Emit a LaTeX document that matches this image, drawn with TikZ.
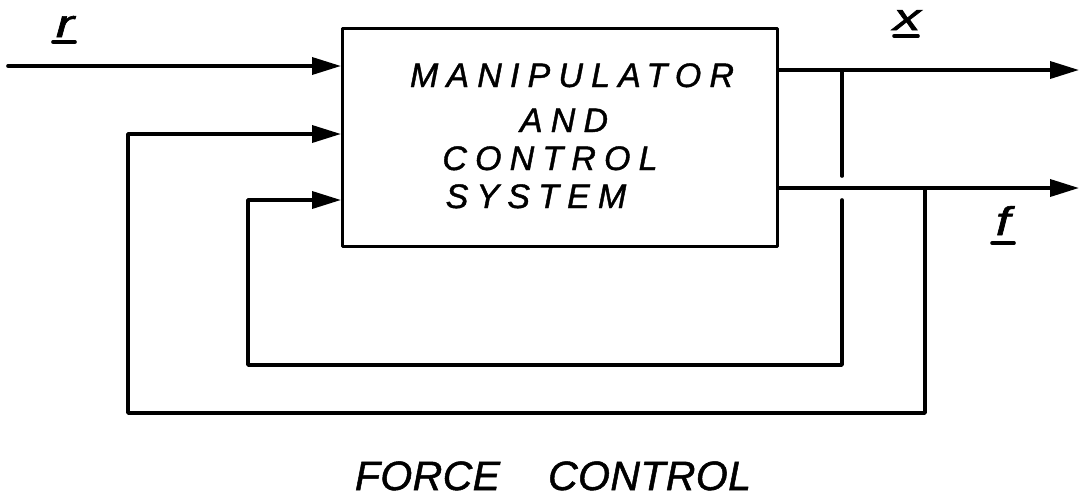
\documentclass[tikz,border=0pt]{standalone}
\usepackage{fontspec}
\usepackage{graphicx}
\setmainfont{Liberation Sans}
\newfontfamily\boxfont{Liberation Sans}[LetterSpace=24, FakeBold=1.2]
\newfontfamily\titlefont{Liberation Sans}[LetterSpace=1, FakeBold=1.2]
\newfontfamily\labelfont{Liberation Sans}[FakeBold=1.4]
\usetikzlibrary{arrows.meta,calc}
\tikzset{
  sig/.style={line width=3.6pt, line cap=round, line join=round},
  arr/.style={sig, -{Triangle[length=29pt,width=17pt]}},
  blockbox/.style={draw, line width=3.2pt, line join=round, inner sep=0pt,
    minimum width=435pt, minimum height=218pt},
  boxtext/.style={anchor=base, inner sep=0pt,
    font=\boxfont\itshape\fontsize{34}{34}\selectfont},
  varlabel/.style={anchor=base, inner sep=0pt,
    font=\labelfont\itshape\fontsize{34}{34}\selectfont},
  underbar/.style={line width=3.6pt, line cap=round},
}
\begin{document}
\begin{tikzpicture}[x=1pt,y=-1pt]
\useasboundingbox (0,0) rectangle (1081,499);

% main block
\node[blockbox, anchor=north west] (sys) at (341,27) {};
\node[boxtext] (t1) at (572,87) {MANIPULATOR};
\node[boxtext] (t2) at (564,132) {AND};
\node[boxtext] (t3) at (550,170) {CONTROL};
\node[boxtext] (t4) at (536,208) {SYSTEM};

% reference input
\coordinate (rin) at (8,66);
\draw[arr] (rin) -- (rin -| sys.west);

% outputs
\coordinate (xout) at (1079,70);
\coordinate (fout) at (1079,188);
\draw[arr] (xout -| sys.east) -- (xout);
\draw[arr] (fout -| sys.east) -- (fout);

% position feedback (inner loop), broken where it crosses the force output
\coordinate (xtap) at (842,70);
\coordinate (ibr) at (842,365);
\coordinate (ibl) at (248,365);
\coordinate (iin) at (248,200);
\draw[sig] (xtap) -- ($(xtap |- fout)+(0,-12)$);
\draw[arr] ($(xtap |- fout)+(0,12)$) -- (ibr) -- (ibl) -- (iin) -- (iin -| sys.west);

% force feedback (outer loop)
\coordinate (ftap) at (925,188);
\coordinate (obr) at (925,413);
\coordinate (obl) at (128,413);
\coordinate (oin) at (128,134);
\draw[arr] (ftap) -- (obr) -- (obl) -- (oin) -- (oin -| sys.west);

% signal labels (underlined vector symbols)
\node[varlabel] (lr) at (65,37) {\scalebox{1.6}[1.15]{r}};
\draw[underbar] ($(lr.base)+(-12,5)$) -- ($(lr.base)+(10,5)$);
\node[varlabel] (lx) at (907,30) {\scalebox{1.6}[1.1]{x}};
\draw[underbar] ($(lx.base)+(-13,6)$) -- ($(lx.base)+(11,6)$);
\node[varlabel, font=\labelfont\itshape\fontsize{40}{40}\selectfont]
  (lf) at (1003,235) {\scalebox{1.3}[1]{f}};
\draw[underbar] ($(lf.base)+(-11,8)$) -- ($(lf.base)+(11,8)$);

% caption
\node[anchor=base, inner sep=0pt, font=\titlefont\itshape\fontsize{41}{41}\selectfont]
  (cap) at (553,490) {FORCE\hspace{48pt}CONTROL};
\end{tikzpicture}
\end{document}
